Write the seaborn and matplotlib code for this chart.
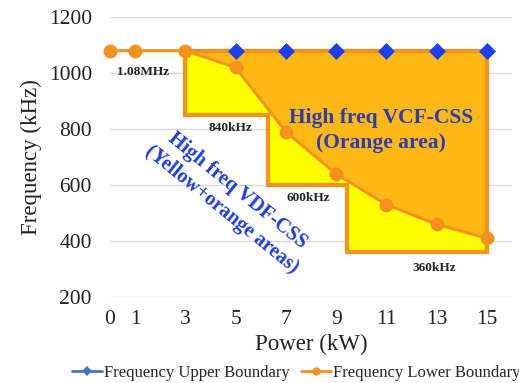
import matplotlib
matplotlib.use("Agg")
import matplotlib.pyplot as plt
import seaborn as sns
from matplotlib.lines import Line2D

# data
power_kw = [0, 1, 3, 5, 7, 9, 11, 13, 15]
upper_khz = [1080, 1080, 1080, 1080, 1080, 1080, 1080, 1080, 1080]
lower_khz = [1080, 1080, 1080, 1020, 790, 640, 530, 460, 410]

# step boundaries of the yellow (VDF) area
step_edges = [3, 6.3, 9.45, 15]
step_levels = [850, 600, 360]
step_labels = ["840kHz", "600kHz", "360kHz"]
top_label = "1.08MHz"

sns.set_theme(style="whitegrid")
plt.rcParams['font.family'] = ['Liberation Serif', 'DejaVu Serif']

c_border = "#F5921E"
c_orange = "#FDB813"
c_yellow = "#FFFF00"
c_blue = "#1B3FF5"
c_legend_blue = "#4472C4"

fig = plt.figure(figsize=(5.19, 3.83), dpi=100)
ax = fig.add_axes([110 / 519, 1 - 297 / 383, 402 / 519, 280 / 383])

# yellow step polygon
top = upper_khz[0]
sx = [step_edges[0], step_edges[-1]]
sy = [top, top]
for i in range(len(step_levels) - 1, -1, -1):
    sx += [step_edges[i + 1], step_edges[i]]
    sy += [step_levels[i], step_levels[i]]
ax.fill(sx, sy, color=c_yellow, lw=0, zorder=1)

# orange area between lower boundary and upper boundary
ox = [p for p in power_kw if p >= step_edges[0]]
o_up = [u for p, u in zip(power_kw, upper_khz) if p >= step_edges[0]]
o_lo = [l for p, l in zip(power_kw, lower_khz) if p >= step_edges[0]]
ax.fill(ox + ox[::-1], o_up + o_lo[::-1], color=c_orange, lw=0, zorder=1.5)

# blue line sits below the outline
sns.lineplot(x=power_kw, y=upper_khz, ax=ax, color=c_blue, lw=1.5, zorder=1.8)

ax.fill(sx, sy, facecolor="none", edgecolor=c_border, lw=3, joinstyle="miter", zorder=2)

sns.lineplot(x=power_kw, y=lower_khz, ax=ax, color=c_border, lw=2.2,
             marker="o", markersize=10, markeredgewidth=0, zorder=3, clip_on=False)
sns.scatterplot(x=power_kw[3:], y=upper_khz[3:], ax=ax, color=c_blue, marker="D",
                s=75, linewidth=0, zorder=4, clip_on=False)

# annotations
ax.text(1.32, 1005, top_label, ha="center", va="center", fontsize=9.5,
        fontweight="bold", color="#222222", zorder=5)
label_pos = [(4.8, 802), (7.9, 552), (12.9, 305)]
for (lx, ly), lab in zip(label_pos, step_labels):
    ax.text(lx, ly, lab, ha="center", va="center", fontsize=9.5,
            fontweight="bold", color="#222222", zorder=5)

ax.text(10.8, 795, "High freq VCF-CSS\n(Orange area)", ha="center", va="center",
        fontsize=15.5, fontweight="bold", color="#2B3DB5", linespacing=1.3, zorder=5)
ax.text(4.75, 545, "High freq VDF-CSS\n(Yellow+orange areas)", ha="center", va="center",
        fontsize=14.5, fontweight="bold", color="#1E3BE6", rotation=-39,
        rotation_mode="anchor", linespacing=1.3, zorder=5)

ax.set_xlim(0, 16)
ax.set_ylim(200, 1200)
ax.set_xticks(power_kw)
ax.set_yticks([200, 400, 600, 800, 1000, 1200])
ax.grid(axis="x", visible=False)
ax.grid(axis="y", color="#D9D9D9", lw=1)
for s in ax.spines.values():
    s.set_visible(False)
ax.tick_params(axis="both", length=0, labelsize=15.5, colors="#222222")
ax.tick_params(axis="y", pad=13)
ax.tick_params(axis="x", pad=9)
ax.set_xlabel("Power (kW)", fontsize=16.5, color="#222222", labelpad=4)
ax.set_ylabel("Frequency (kHz)", fontsize=16.5, color="#222222", labelpad=5)

handles = [
    Line2D([], [], color=c_legend_blue, lw=2, marker="D", markersize=5, markeredgewidth=0),
    Line2D([], [], color=c_border, lw=2, marker="o", markersize=6, markeredgewidth=0),
]
fig.legend(handles, ["Frequency Upper Boundary", "Frequency Lower Boundary"],
           loc="center", bbox_to_anchor=(296 / 519, 1 - 373 / 383), ncol=2, frameon=False,
           fontsize=12, handlelength=1.8, handletextpad=0.1, columnspacing=0.7,
           borderaxespad=0, borderpad=0)

fig.savefig("out.png", dpi=100)
